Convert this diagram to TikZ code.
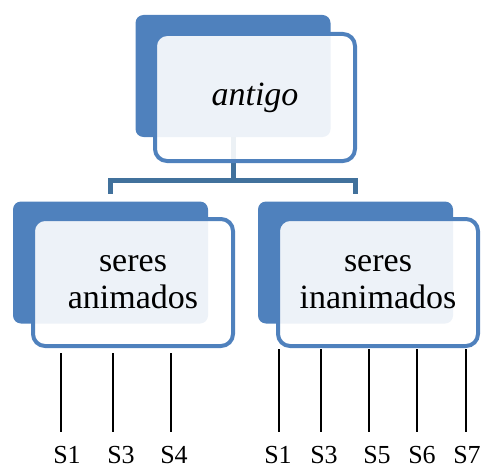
\documentclass[tikz,border=0pt]{standalone}
\usepackage{fontspec}
\setmainfont{Liberation Serif}[Ligatures=TeX]
\newfontfamily\timesf{Liberation Serif}
\usetikzlibrary{positioning}
\definecolor{boxblue}{HTML}{4F81BD}
\definecolor{linkblue}{HTML}{41719C}
\tikzset{
  back/.style={fill=boxblue, rounded corners=8pt, minimum width=195pt, minimum height=122pt, inner sep=0pt},
  front/.style={draw=boxblue, line width=4pt, fill=white, fill opacity=0.9, text opacity=1, rounded corners=12pt,
    minimum width=200pt, minimum height=127pt, align=center, font=\timesf\fontsize{34}{37}\selectfont},
  link/.style={draw=linkblue, line width=5pt},
  leaf/.style={draw=black, line width=1.2pt, shorten >=14pt},
  sn/.style={font=\timesf\fontsize{26}{28}\selectfont, inner sep=0pt, anchor=base},
}
\begin{document}
\begin{tikzpicture}[x=1pt, y=-1pt]
        \useasboundingbox (0,0) rectangle (484,468);
        \node[back] (tb) at (233,76) {};
        \node[back] (ab) at (110.5,262.5) {};
        \node[back] (ib) at (355.5,262.5) {};
        \coordinate (j) at (233,180);
        \draw[link, shorten >=7pt] (tb.south) -- (j) -| (ab.north);
        \draw[link, shorten >=7pt] (j) -| (ib.north);
        \node[front] (top) at (255,97.5) {\itshape antigo};
        \node[front] (anim) at (133,282.5) {seres\\animados};
        \node[front] (inan) at (378,282.5) {seres\\inanimados};
        % leaves
        \foreach \x/\l/\n/\t in {61/67/a1/S1, 113/121/a3/S3, 171/174/a4/S4} {
          \node[sn] (\n) at (\l,463) {\t};
          \coordinate (t\n) at (\x,353);
          \draw[leaf] (t\n) -- (t\n |- \n.north);
        }
        \foreach \x/\l/\n/\t in {279/278/i1/S1, 321/324/i3/S3, 369/377/i5/S5, 417/422/i6/S6, 466/467/i7/S7} {
          \node[sn] (\n) at (\l,463) {\t};
          \coordinate (t\n) at (\x,349);
          \draw[leaf] (t\n) -- (t\n |- \n.north);
        }
      \end{tikzpicture}
\end{document}
